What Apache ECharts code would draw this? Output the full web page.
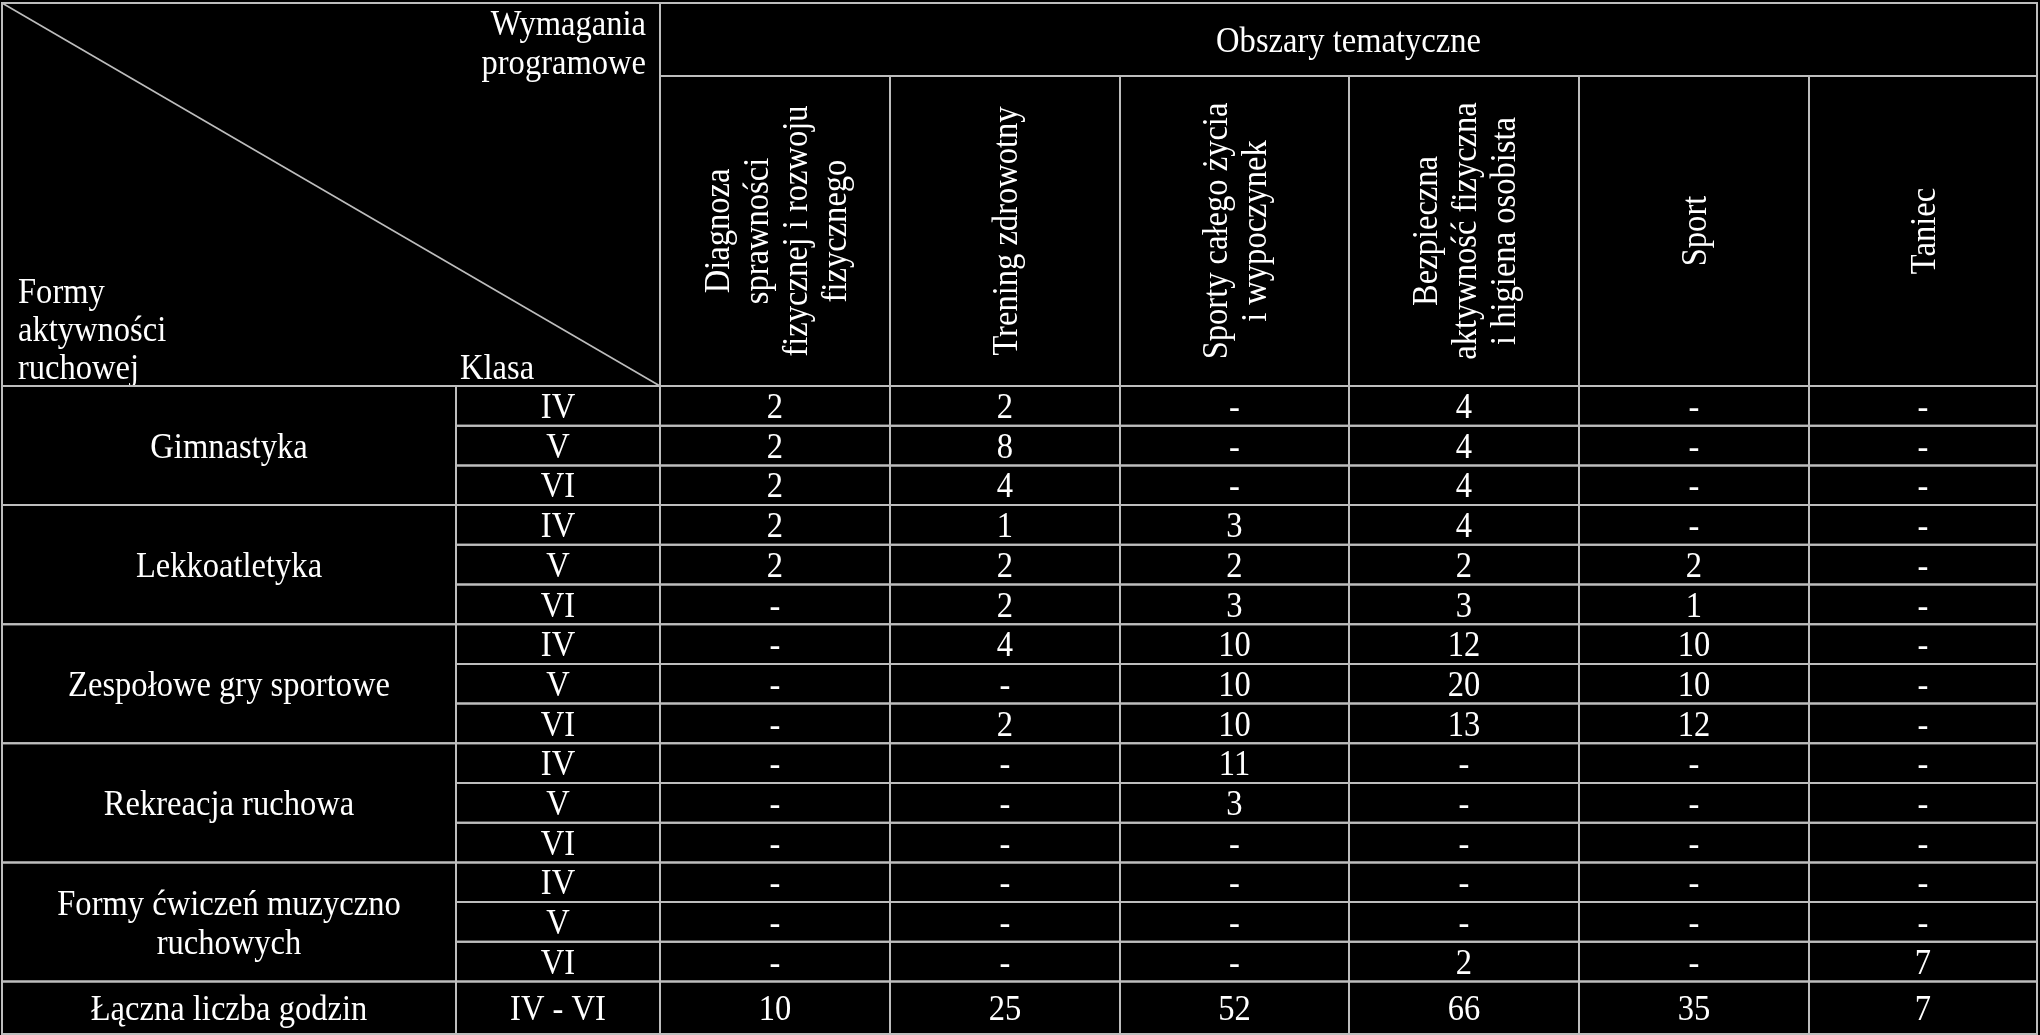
<!DOCTYPE html>
<html>
<head>
<meta charset="utf-8">
<script src="https://cdn.jsdelivr.net/npm/echarts@6/dist/echarts.min.js"></script>
<style>
html,body{margin:0;padding:0;background:#000;}
#chart{width:2040px;height:1035px;}
</style>
</head>
<body>
<div id="chart"></div>
<script>
// ---------- DATA ----------
const headerTitle = 'Obszary tematyczne';
const cornerTop = 'Wymagania\nprogramowe';
const cornerLeft = 'Formy\naktywności\nruchowej';
const cornerKlasa = 'Klasa';
const topics = [
  'Diagnoza\nsprawności\nfizycznej i rozwoju\nfizycznego',
  'Trening zdrowotny',
  'Sporty całego życia\ni wypoczynek',
  'Bezpieczna\naktywność fizyczna\ni higiena osobista',
  'Sport',
  'Taniec'
];
const forms = ['Gimnastyka', 'Lekkoatletyka', 'Zespołowe gry sportowe', 'Rekreacja ruchowa', 'Formy ćwiczeń muzyczno\nruchowych'];
const classes = ['IV', 'V', 'VI'];
const gimnastyka    = [[2, 2, null, 4, null, null], [2, 8, null, 4, null, null], [2, 4, null, 4, null, null]];
const lekkoatletyka = [[2, 1, 3, 4, null, null], [2, 2, 2, 2, 2, null], [null, 2, 3, 3, 1, null]];
const zespolowe     = [[null, 4, 10, 12, 10, null], [null, null, 10, 20, 10, null], [null, 2, 10, 13, 12, null]];
const rekreacja     = [[null, null, 11, null, null, null], [null, null, 3, null, null, null], [null, null, null, null, null, null]];
const muzyczno      = [[null, null, null, null, null, null], [null, null, null, null, null, null], [null, null, null, 2, null, 7]];
const totalLabel = 'Łączna liczba godzin';
const totalClasses = 'IV - VI';
const totals = [10, 25, 52, 66, 35, 7];

const groups = [gimnastyka, lekkoatletyka, zespolowe, rekreacja, muzyczno];

// ---------- LAYOUT ----------
const X = [2, 456, 660, 890, 1120, 1349, 1579, 1809, 2037];
const Y_TOP = 3, Y_SUB = 76, Y_BODY = 386, ROW_H = 39.7, Y_BOTTOM = 1034;
const LINE = '#bdbdbd';
const FONT = 'Liberation Serif';
const FS = 35;
const SX = 0.93;
const TEXT_DY = 3;

const rowY = r => Y_BODY + r * ROW_H;
const fmt = v => (v === null || v === undefined) ? '-' : String(v);

const cells = [];
cells.push({x0: X[0], x1: X[2], y0: Y_TOP, y1: Y_BODY, kind: 'corner'});
cells.push({x0: X[2], x1: X[8], y0: Y_TOP, y1: Y_SUB, text: headerTitle});
topics.forEach((t, i) => cells.push({x0: X[2 + i], x1: X[3 + i], y0: Y_SUB, y1: Y_BODY, text: t, rot: true, lh: 39}));
groups.forEach((g, gi) => {
  cells.push({x0: X[0], x1: X[1], y0: rowY(gi * 3), y1: rowY(gi * 3 + 3), text: forms[gi], lh: 39});
  g.forEach((row, ri) => {
    const r = gi * 3 + ri;
    cells.push({x0: X[1], x1: X[2], y0: rowY(r), y1: rowY(r + 1), text: classes[ri]});
    row.forEach((v, ci) => cells.push({x0: X[2 + ci], x1: X[3 + ci], y0: rowY(r), y1: rowY(r + 1), text: fmt(v)}));
  });
});
const lastY = rowY(groups.length * 3);
cells.push({x0: X[0], x1: X[1], y0: lastY, y1: Y_BOTTOM, text: totalLabel});
cells.push({x0: X[1], x1: X[2], y0: lastY, y1: Y_BOTTOM, text: totalClasses});
totals.forEach((v, ci) => cells.push({x0: X[2 + ci], x1: X[3 + ci], y0: lastY, y1: Y_BOTTOM, text: fmt(v)}));

function textEl(x, y, text, opts) {
  opts = opts || {};
  return {
    type: 'text', x: x, y: y, rotation: opts.rot ? Math.PI / 2 : 0,
    scaleX: SX, silent: true,
    style: {
      text: text, x: 0, y: TEXT_DY, fill: '#ffffff', fontFamily: FONT, fontSize: FS,
      align: opts.align || 'center', verticalAlign: 'middle',
      lineHeight: opts.lh || 38
    }
  };
}

function renderItem(params, api) {
  const c = cells[params.dataIndex];
  const p0 = api.coord([api.value(0), api.value(1)]);
  const p1 = api.coord([api.value(2), api.value(3)]);
  const children = [{
    type: 'rect', silent: true,
    shape: {x: p0[0], y: p0[1], width: p1[0] - p0[0], height: p1[1] - p0[1]},
    style: {fill: null, stroke: LINE, lineWidth: 2}
  }];
  if (c.kind === 'corner') {
    children.push({type: 'line', silent: true, shape: {x1: p0[0], y1: p0[1], x2: p1[0], y2: p1[1]}, style: {stroke: LINE, lineWidth: 1.6}});
    children.push(textEl(p1[0] - 14, p0[1] + 39, cornerTop, {align: 'right', lh: 39}));
    children.push(textEl(p0[0] + 16, p1[1] - 57, cornerLeft, {align: 'left', lh: 38}));
    const kx = api.coord([X[1], 0])[0];
    children.push(textEl(kx + 4, p1[1] - 19, cornerKlasa, {align: 'left'}));
  } else {
    const cx = (p0[0] + p1[0]) / 2, cy = (p0[1] + p1[1]) / 2;
    children.push(textEl(cx, cy, c.text, {rot: c.rot, lh: c.lh}));
  }
  return {type: 'group', children: children};
}

const chart = echarts.init(document.getElementById('chart'));
chart.setOption({
  backgroundColor: '#000000',
  animation: false,
  grid: {left: 0, right: 0, top: 0, bottom: 0},
  xAxis: {type: 'value', min: 0, max: 2040, show: false},
  yAxis: {type: 'value', min: 0, max: 1035, inverse: true, show: false},
  series: [{
    type: 'custom',
    renderItem: renderItem,
    data: cells.map(c => [c.x0, c.y0, c.x1, c.y1]),
    encode: {x: [0, 2], y: [1, 3]},
    clip: false
  }]
});
</script>
</body>
</html>
